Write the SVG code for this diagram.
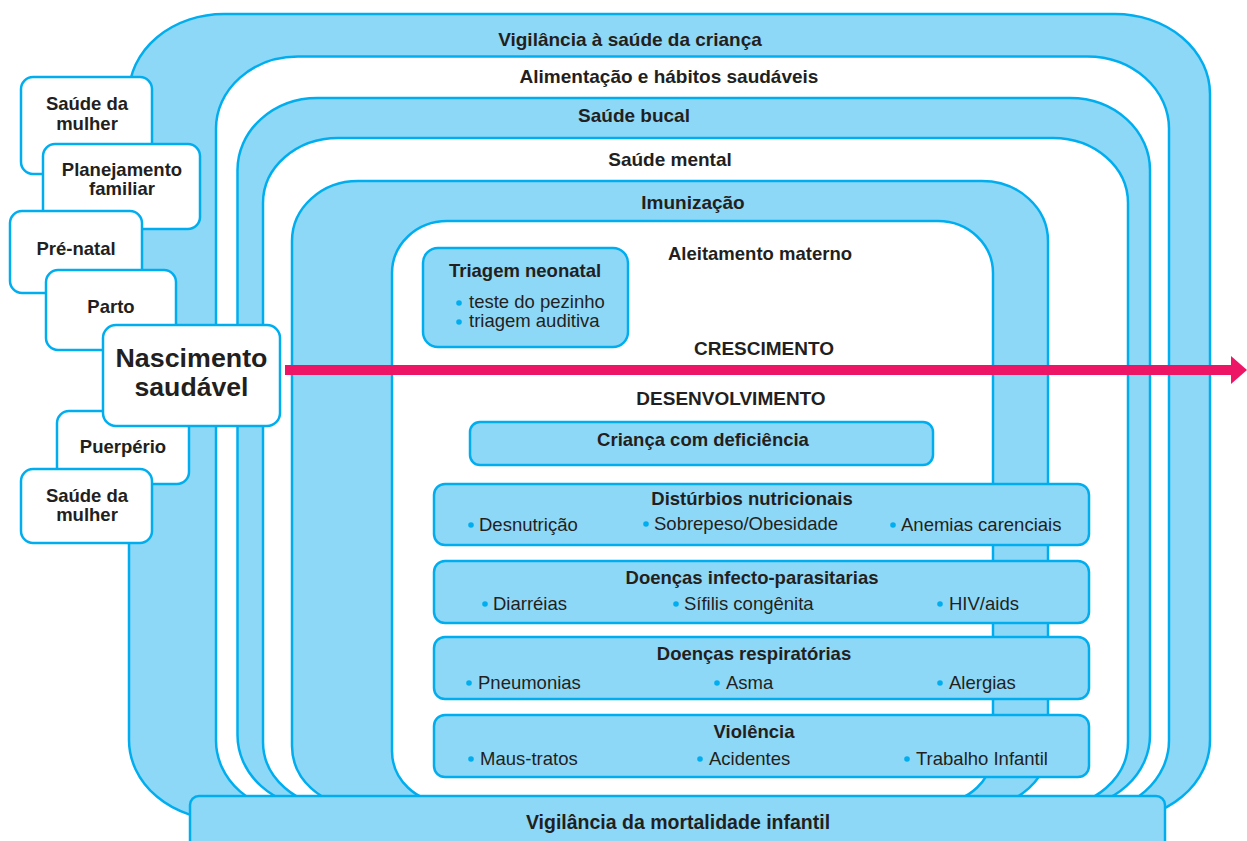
<svg xmlns="http://www.w3.org/2000/svg" width="1247" height="841" viewBox="0 0 1247 841">
<defs>
<style>
.b{fill:#8ED8F7;stroke:#00AEEF;stroke-width:2.5}
.w{fill:#FFFFFF;stroke:#00AEEF;stroke-width:2.5}
.t{font-family:"Liberation Sans",Arial,sans-serif;font-weight:bold;font-size:18.5px;fill:#231F20;text-anchor:middle}
.s{font-family:"Liberation Sans",Arial,sans-serif;font-size:18.5px;fill:#231F20}
.n{font-family:"Liberation Sans",Arial,sans-serif;font-weight:bold;font-size:25px;fill:#231F20;text-anchor:middle}
.d{fill:#00AEEF}
</style>
<marker id="ah" viewBox="0 0 16 28" refX="0" refY="14" markerWidth="16" markerHeight="28" markerUnits="userSpaceOnUse" orient="auto">
<path d="M0,0 L16,14 L0,28 Z" fill="#ED1566"/>
</marker>
</defs>
<rect width="1247" height="841" fill="#FFFFFF"/>

<g id="layer-vigilancia">
<rect class="b" x="129" y="14" width="1081" height="806" rx="95" ry="80"/>
<text class="t" x="630" y="46" style="font-size:19px">Vigilância à saúde da criança</text>
</g>
<g id="layer-alimentacao">
<rect class="w" x="216" y="56.5" width="953" height="756" rx="82" ry="72"/>
<text class="t" x="669" y="83" style="font-size:19px">Alimentação e hábitos saudáveis</text>
</g>
<g id="layer-bucal">
<rect class="b" x="237.5" y="98" width="912.5" height="709" rx="80" ry="72"/>
<text class="t" x="634" y="122" style="font-size:19px">Saúde bucal</text>
</g>
<g id="layer-mental">
<rect class="w" x="263" y="138" width="865" height="669" rx="75" ry="65"/>
<text class="t" x="670" y="166" style="font-size:19px">Saúde mental</text>
</g>
<g id="layer-imunizacao">
<rect class="b" x="292" y="181" width="756" height="625" rx="66" ry="60"/>
<text class="t" x="693" y="209" style="font-size:19px">Imunização</text>
</g>
<g id="layer-aleitamento">
<rect class="w" x="392" y="221" width="601" height="582" rx="55" ry="52"/>
<text class="t" x="760" y="260">Aleitamento materno</text>
<text class="t" x="764" y="355" style="font-size:19px">CRESCIMENTO</text>
<text class="t" x="731" y="405" style="font-size:19px">DESENVOLVIMENTO</text>
</g>

<g id="triagem">
<rect class="b" x="423" y="248" width="205" height="99" rx="15"/>
<text class="t" x="525" y="277">Triagem neonatal</text>
<circle class="d" cx="459" cy="303" r="2.8"/>
<text class="s" x="469" y="308">teste do pezinho</text>
<circle class="d" cx="459" cy="322" r="2.8"/>
<text class="s" x="469" y="327">triagem auditiva</text>
</g>

<g id="crianca-deficiencia">
<rect class="b" x="470" y="422" width="463" height="43" rx="10"/>
<text class="t" x="703" y="446">Criança com deficiência</text>
</g>

<g id="disturbios">
<rect class="b" x="434" y="484" width="655" height="61" rx="11"/>
<text class="t" x="752" y="505">Distúrbios nutricionais</text>
<circle class="d" cx="471" cy="525" r="2.8"/><text class="s" x="479" y="531">Desnutrição</text>
<circle class="d" cx="646" cy="524" r="2.8"/><text class="s" x="654" y="530">Sobrepeso/Obesidade</text>
<circle class="d" cx="893" cy="525" r="2.8"/><text class="s" x="901" y="531">Anemias carenciais</text>
</g>

<g id="infecto">
<rect class="b" x="434" y="561" width="655" height="62" rx="11"/>
<text class="t" x="752" y="584">Doenças infecto-parasitarias</text>
<circle class="d" cx="485" cy="604" r="2.8"/><text class="s" x="493" y="610">Diarréias</text>
<circle class="d" cx="676" cy="604" r="2.8"/><text class="s" x="684" y="610">Sífilis congênita</text>
<circle class="d" cx="940" cy="604" r="2.8"/><text class="s" x="949" y="610">HIV/aids</text>
</g>

<g id="respiratorias">
<rect class="b" x="434" y="637" width="655" height="62" rx="11"/>
<text class="t" x="754" y="660">Doenças respiratórias</text>
<circle class="d" cx="469" cy="683" r="2.8"/><text class="s" x="478" y="689">Pneumonias</text>
<circle class="d" cx="717" cy="683" r="2.8"/><text class="s" x="726" y="689">Asma</text>
<circle class="d" cx="940" cy="683" r="2.8"/><text class="s" x="949" y="689">Alergias</text>
</g>

<g id="violencia">
<rect class="b" x="434" y="715" width="655" height="62" rx="11"/>
<text class="t" x="754" y="738">Violência</text>
<circle class="d" cx="471" cy="759" r="2.8"/><text class="s" x="480" y="765">Maus-tratos</text>
<circle class="d" cx="700" cy="759" r="2.8"/><text class="s" x="709" y="765">Acidentes</text>
<circle class="d" cx="907" cy="759" r="2.8"/><text class="s" x="916" y="765">Trabalho Infantil</text>
</g>

<g id="mortalidade">
<rect class="b" x="190" y="796" width="975" height="70" rx="9"/>
<text class="t" x="678" y="829" style="font-size:19.5px">Vigilância da mortalidade infantil</text>
</g>

<g id="saude-mulher-1">
<rect class="w" x="21" y="77" width="131" height="97" rx="12"/>
<text class="t" x="87" y="110">Saúde da</text>
<text class="t" x="87" y="130">mulher</text>
</g>
<g id="planejamento">
<rect class="w" x="43" y="144" width="157" height="85" rx="12"/>
<text class="t" x="122" y="176">Planejamento</text>
<text class="t" x="122" y="195">familiar</text>
</g>
<g id="pre-natal">
<rect class="w" x="10" y="211" width="132" height="82" rx="12"/>
<text class="t" x="76" y="255">Pré-natal</text>
</g>
<g id="parto">
<rect class="w" x="46" y="270" width="130" height="80" rx="12"/>
<text class="t" x="111" y="313">Parto</text>
</g>
<g id="puerperio">
<rect class="w" x="57" y="411" width="132" height="73" rx="12"/>
<text class="t" x="123" y="453">Puerpério</text>
</g>
<g id="nascimento">
<rect class="w" x="103" y="325" width="177" height="101" rx="13"/>
<text class="n" x="191.5" y="367" textLength="152" lengthAdjust="spacingAndGlyphs">Nascimento</text>
<text class="n" x="191.5" y="396" textLength="114" lengthAdjust="spacingAndGlyphs">saudável</text>
</g>
<g id="saude-mulher-2">
<rect class="w" x="21" y="469" width="131" height="74" rx="12"/>
<text class="t" x="87" y="502">Saúde da</text>
<text class="t" x="87" y="521">mulher</text>
</g>

<g id="connectors">
<line x1="285" y1="370" x2="1231" y2="370" stroke="#ED1566" stroke-width="10" marker-end="url(#ah)"/>
</g>
</svg>
